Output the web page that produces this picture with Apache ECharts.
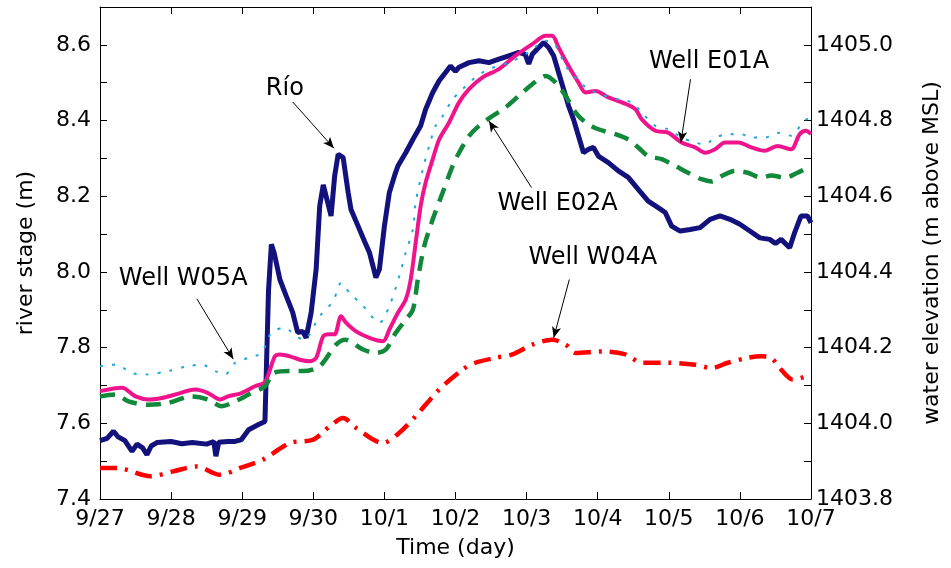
<!DOCTYPE html>
<html>
<head>
<meta charset="utf-8">
<script src="https://cdn.jsdelivr.net/npm/echarts@6/dist/echarts.min.js"></script>
<style>html,body{margin:0;padding:0;background:#fff}#c{width:951px;height:568px}</style>
</head>
<body>
<div id="c"></div>
<script>
// Tick labels for the time axis (day index 0 = 9/27)
const dayLabels = ['9/27','9/28','9/29','9/30','10/1','10/2','10/3','10/4','10/5','10/6','10/7'];

// River stage (m), left axis: [day, value]
const rioData = [[0,7.554],[0.1,7.56],[0.19,7.579],[0.25,7.565],[0.35,7.554],[0.45,7.526],[0.52,7.545],[0.6,7.535],[0.66,7.517],[0.72,7.54],[0.8,7.549],[1.0,7.552],[1.15,7.546],[1.3,7.549],[1.5,7.545],[1.6,7.552],[1.63,7.513],[1.67,7.55],[1.8,7.552],[1.9,7.552],[1.99,7.557],[2.09,7.583],[2.23,7.597],[2.32,7.605],[2.34,7.61],[2.37,7.95],[2.41,8.073],[2.45,8.05],[2.53,7.98],[2.62,7.936],[2.71,7.893],[2.78,7.84],[2.85,7.843],[2.9,7.826],[2.97,7.893],[3.04,8.007],[3.09,8.174],[3.14,8.23],[3.18,8.2],[3.25,8.148],[3.3,8.253],[3.35,8.311],[3.42,8.302],[3.49,8.21],[3.53,8.165],[3.63,8.121],[3.72,8.081],[3.79,8.051],[3.84,8.015],[3.88,7.985],[3.93,8.007],[4.0,8.121],[4.07,8.21],[4.14,8.253],[4.19,8.28],[4.3,8.315],[4.4,8.35],[4.51,8.386],[4.58,8.43],[4.68,8.474],[4.77,8.505],[4.86,8.527],[4.93,8.544],[5.0,8.53],[5.05,8.541],[5.19,8.553],[5.33,8.558],[5.47,8.553],[5.61,8.562],[5.75,8.571],[5.89,8.58],[5.98,8.575],[6.03,8.55],[6.08,8.575],[6.15,8.589],[6.24,8.606],[6.31,8.593],[6.38,8.571],[6.45,8.527],[6.52,8.483],[6.59,8.439],[6.66,8.403],[6.73,8.359],[6.8,8.315],[6.87,8.324],[6.94,8.329],[7.01,8.306],[7.15,8.289],[7.29,8.267],[7.43,8.25],[7.57,8.218],[7.71,8.187],[7.85,8.17],[7.95,8.157],[8.04,8.121],[8.16,8.108],[8.3,8.112],[8.44,8.117],[8.58,8.139],[8.72,8.148],[8.86,8.139],[9.0,8.126],[9.14,8.108],[9.28,8.09],[9.42,8.086],[9.5,8.075],[9.58,8.086],[9.7,8.064],[9.77,8.104],[9.86,8.148],[9.95,8.148],[10,8.13]];

// Well water elevations (m above MSL), right axis: [day, value]
const e01aData = [[0,1404.085],[0.31,1404.094],[0.5,1404.071],[0.68,1404.063],[0.87,1404.067],[1.06,1404.076],[1.34,1404.089],[1.52,1404.08],[1.69,1404.063],[1.8,1404.071],[1.99,1404.08],[2.18,1404.098],[2.32,1404.109],[2.46,1404.177],[2.53,1404.182],[2.67,1404.177],[2.81,1404.168],[2.95,1404.164],[3.04,1404.173],[3.14,1404.23],[3.23,1404.235],[3.3,1404.235],[3.39,1404.283],[3.46,1404.266],[3.6,1404.243],[3.79,1404.226],[3.98,1404.217],[4.07,1404.248],[4.19,1404.292],[4.3,1404.327],[4.37,1404.38],[4.44,1404.477],[4.51,1404.574],[4.58,1404.636],[4.68,1404.698],[4.77,1404.75],[4.91,1404.795],[5.05,1404.848],[5.19,1404.883],[5.38,1404.914],[5.61,1404.936],[5.84,1404.971],[6.08,1405.002],[6.27,1405.024],[6.36,1405.024],[6.45,1404.993],[6.59,1404.944],[6.73,1404.9],[6.83,1404.874],[6.97,1404.878],[7.15,1404.861],[7.34,1404.848],[7.53,1404.83],[7.62,1404.803],[7.81,1404.773],[7.99,1404.768],[8.18,1404.742],[8.37,1404.729],[8.51,1404.715],[8.65,1404.724],[8.79,1404.742],[8.98,1404.742],[9.16,1404.729],[9.35,1404.72],[9.53,1404.733],[9.72,1404.724],[9.84,1404.764],[9.93,1404.773],[10,1404.764]];

const e02aData = [[0,1404.071],[0.22,1404.076],[0.4,1404.058],[0.68,1404.049],[0.96,1404.054],[1.29,1404.071],[1.52,1404.063],[1.71,1404.045],[1.9,1404.058],[2.09,1404.076],[2.32,1404.098],[2.44,1404.133],[2.67,1404.138],[2.85,1404.138],[3.09,1404.151],[3.32,1404.208],[3.45,1404.221],[3.7,1404.195],[3.88,1404.186],[4.02,1404.195],[4.16,1404.239],[4.3,1404.274],[4.4,1404.3],[4.47,1404.38],[4.56,1404.468],[4.68,1404.539],[4.82,1404.61],[4.96,1404.68],[5.05,1404.715],[5.19,1404.759],[5.33,1404.786],[5.52,1404.812],[5.7,1404.834],[5.89,1404.865],[6.08,1404.896],[6.27,1404.918],[6.41,1404.9],[6.55,1404.865],[6.69,1404.821],[6.83,1404.795],[7.01,1404.777],[7.25,1404.764],[7.43,1404.75],[7.57,1404.729],[7.71,1404.706],[7.9,1404.698],[8.09,1404.68],[8.27,1404.662],[8.46,1404.645],[8.6,1404.639],[8.74,1404.653],[8.93,1404.667],[9.11,1404.662],[9.3,1404.649],[9.44,1404.655],[9.63,1404.649],[9.81,1404.662],[10,1404.68]];

const w05aData = [[0,1404.151],[0.22,1404.155],[0.45,1404.133],[0.64,1404.129],[0.96,1404.138],[1.24,1404.151],[1.43,1404.155],[1.62,1404.138],[1.76,1404.129],[1.9,1404.16],[2.09,1404.173],[2.27,1404.186],[2.41,1404.239],[2.58,1404.252],[2.86,1404.221],[3.09,1404.283],[3.28,1404.323],[3.39,1404.371],[3.51,1404.345],[3.7,1404.31],[3.93,1404.266],[4.07,1404.31],[4.21,1404.389],[4.3,1404.451],[4.4,1404.512],[4.44,1404.583],[4.54,1404.671],[4.63,1404.733],[4.72,1404.786],[4.82,1404.812],[4.96,1404.856],[5.1,1404.883],[5.28,1404.914],[5.47,1404.936],[5.75,1404.953],[6.03,1404.98],[6.27,1405.011],[6.41,1404.997],[6.55,1404.944],[6.73,1404.905],[6.87,1404.883],[7.11,1404.865],[7.29,1404.856],[7.48,1404.848],[7.62,1404.821],[7.81,1404.786],[7.99,1404.777],[8.18,1404.755],[8.37,1404.742],[8.51,1404.737],[8.65,1404.755],[8.84,1404.764],[9.02,1404.764],[9.16,1404.755],[9.35,1404.755],[9.53,1404.768],[9.72,1404.76],[9.9,1404.799],[10,1404.808]];

const w04aData = [[0,1403.882],[0.24,1403.882],[0.71,1403.86],[1.03,1403.873],[1.36,1403.886],[1.69,1403.864],[1.97,1403.882],[2.29,1403.904],[2.67,1403.948],[3.0,1403.957],[3.23,1403.992],[3.42,1404.014],[3.6,1403.988],[3.98,1403.948],[4.21,1403.975],[4.44,1404.019],[4.77,1404.089],[5.1,1404.142],[5.28,1404.16],[5.56,1404.173],[5.8,1404.182],[6.08,1404.208],[6.36,1404.221],[6.55,1404.208],[6.69,1404.186],[7.06,1404.19],[7.39,1404.182],[7.62,1404.16],[7.99,1404.16],[8.37,1404.155],[8.6,1404.146],[8.83,1404.16],[9.11,1404.173],[9.3,1404.177],[9.44,1404.173],[9.58,1404.142],[9.74,1404.116],[9.86,1404.12],[10,1404.129]];

// Annotation labels with arrows (data coords on the left axis)
const annotations = [
  {text:'Río',       at:[2.60,8.483], from:[2.711,8.449], to:[3.289,8.327]},
  {text:'Well W05A', at:[1.17,7.981], from:[1.362,7.929], to:[1.874,7.770]},
  {text:'Well E02A', at:[6.437,8.179], from:[6.069,8.223], to:[5.471,8.399]},
  {text:'Well W04A', at:[6.932,8.038], from:[6.601,7.980], to:[6.381,7.826]},
  {text:'Well E01A', at:[8.567,8.554], from:[8.305,8.509], to:[8.170,8.342]}
];

const FONT = 'DejaVu Sans';
const chart = echarts.init(document.getElementById('c'), null, {renderer:'canvas'});

const mkLine = () => ({show:true, onZero:false, lineStyle:{color:'#000', width:1}});
const mkTick = () => ({show:true, inside:true, length:7, lineStyle:{color:'#000', width:1}});
const labelEven = v => (Math.round(v*10) % 2 === 0 ? v.toFixed(1) : '');

const option = {
  animation:false,
  backgroundColor:'#fff',
  textStyle:{fontFamily:FONT},
  grid:{left:100, right:138, top:7, bottom:69, show:false},
  xAxis:[{
    type:'value', min:0, max:10, interval:1, position:'bottom',
    name:'Time (day)', nameLocation:'middle', nameGap:38,
    nameTextStyle:{fontFamily:FONT, fontSize:22, color:'#000'},
    axisLine:mkLine(), axisTick:mkTick(), splitLine:{show:false},
    axisLabel:{fontFamily:FONT, fontSize:22, color:'#000', margin:9,
      formatter:v => dayLabels[Math.round(v)]}
  },{
    type:'value', min:0, max:10, interval:1, position:'top',
    axisLine:mkLine(), axisTick:mkTick(), splitLine:{show:false},
    axisLabel:{show:false}
  }],
  yAxis:[{
    type:'value', min:7.4, max:8.7, interval:0.1, position:'left',
    name:'river stage (m)', nameLocation:'middle', nameGap:63, nameRotate:90,
    nameTextStyle:{fontFamily:FONT, fontSize:22, color:'#000'},
    axisLine:mkLine(), axisTick:mkTick(), splitLine:{show:false},
    axisLabel:{fontFamily:FONT, fontSize:22, color:'#000', margin:9, formatter:labelEven}
  },{
    type:'value', min:1403.8, max:1405.1, interval:0.1, position:'right',
    name:'water elevation (m above MSL)', nameLocation:'middle', nameGap:110, nameRotate:90,
    nameTextStyle:{fontFamily:FONT, fontSize:22, color:'#000'},
    axisLine:mkLine(), axisTick:mkTick(), splitLine:{show:false},
    axisLabel:{fontFamily:FONT, fontSize:22, color:'#000', margin:5, formatter:labelEven}
  }],
  series:[
    {name:'Río', type:'line', yAxisIndex:0, data:rioData, showSymbol:false, symbol:'none',
      lineStyle:{color:'#13117c', width:5}, z:2,
      markLine:{silent:true, symbol:['none','arrow'], symbolSize:[7,11], animation:false,
        lineStyle:{color:'#000', width:1, type:'solid'}, label:{show:false},
        data:annotations.map(a => [{coord:a.from}, {coord:a.to}])},
      markPoint:{silent:true, symbol:'circle', symbolSize:0, animation:false,
        label:{show:true, position:'inside', fontFamily:FONT, fontSize:24, color:'#000',
          formatter:p => p.name},
        data:annotations.map(a => ({name:a.text, coord:a.at}))}
    },
    {name:'Well E01A', type:'line', yAxisIndex:1, data:e01aData, showSymbol:false, symbol:'none', smooth:0.3,
      lineStyle:{color:'#f0148c', width:4}, z:3},
    {name:'Well E02A', type:'line', yAxisIndex:1, data:e02aData, showSymbol:false, symbol:'none', smooth:0.3,
      lineStyle:{color:'#12883a', width:4.5, type:[15,9]}, z:3},
    {name:'Well W05A', type:'line', yAxisIndex:1, data:w05aData, showSymbol:false, symbol:'none', smooth:0.3,
      lineStyle:{color:'#22a6d8', width:2, type:[3,9]}, z:4},
    {name:'Well W04A', type:'line', yAxisIndex:1, data:w04aData, showSymbol:false, symbol:'none', smooth:0.3,
      lineStyle:{color:'#ff0000', width:4.5, type:[17,8,3,8]}, z:3}
  ]
};
chart.setOption(option);
</script>
</body>
</html>
